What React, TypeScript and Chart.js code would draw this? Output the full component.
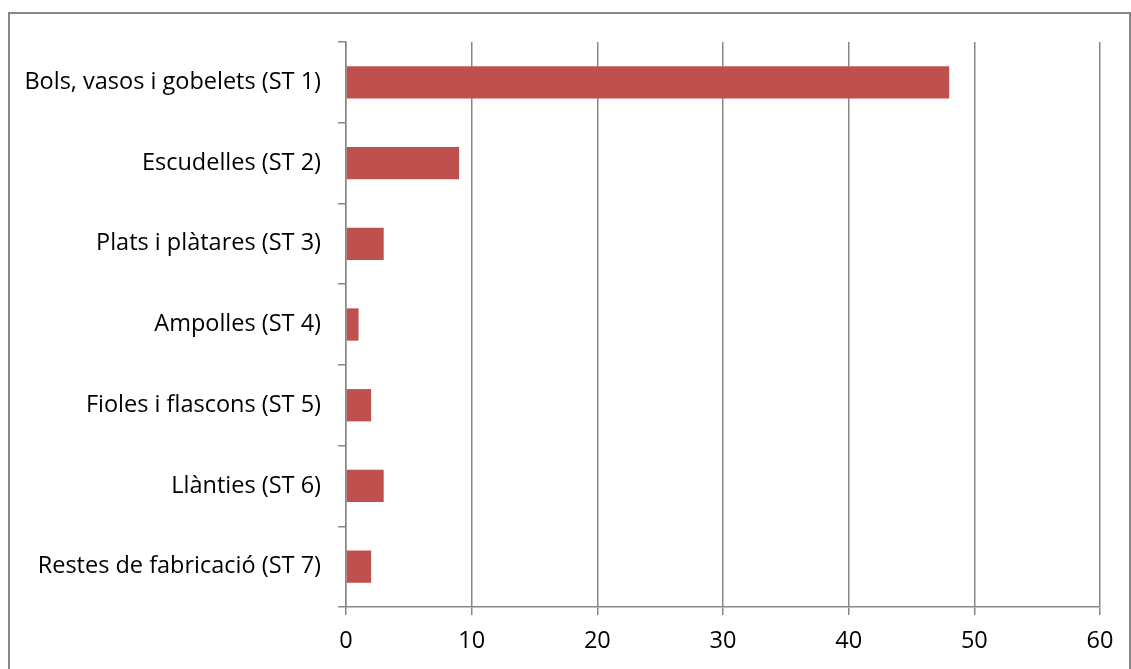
import React, { useEffect, useRef } from "react";
import { Chart, registerables } from "chart.js";

Chart.register(...registerables);

const categories = [
  "Bols, vasos i gobelets (ST 1)",
  "Escudelles (ST 2)",
  "Plats i plàtares (ST 3)",
  "Ampolles (ST 4)",
  "Fioles i flascons (ST 5)",
  "Llànties (ST 6)",
  "Restes de fabricació (ST 7)",
];
const values = [48, 9, 3, 1, 2, 3, 2];
const xMin = 0;
const xMax = 60;
const xStep = 10;

const GRID = "#878787";
const FONT = "'Open Sans', Lato, sans-serif";

const borderPlugin = {
  id: "outerBorder",
  beforeDraw(chart: any) {
    const ctx = chart.ctx;
    ctx.save();
    ctx.strokeStyle = GRID;
    ctx.lineWidth = 2;
    ctx.strokeRect(9, 13, 1121, 680);
    ctx.restore();
  },
};

export default function App() {
  const ref = useRef<HTMLCanvasElement>(null);
  useEffect(() => {
    if (!ref.current) return;
    const chart = new Chart(ref.current, {
      type: "bar",
      data: {
        labels: categories,
        datasets: [
          {
            data: values,
            backgroundColor: "#C0504D",
            borderWidth: 0,
            barPercentage: 0.4,
            categoryPercentage: 1,
          },
        ],
      },
      options: {
        indexAxis: "y",
        animation: false,
        responsive: false,
        maintainAspectRatio: false,
        layout: { padding: { left: 0, top: 42, right: 31, bottom: 0 } },
        plugins: { legend: { display: false }, tooltip: { enabled: false } },
        scales: {
          x: {
            min: xMin,
            max: xMax,
            ticks: {
              stepSize: xStep,
              color: "#000",
              font: { family: FONT, size: 23.5 },
              padding: 12,
            },
            grid: {
              color: GRID,
              lineWidth: 1.5,
              tickLength: 8,
              drawOnChartArea: true,
            },
            border: { color: GRID, width: 1.5 },
            afterFit(scale: any) {
              scale.height = 62;
            },
          },
          y: {
            ticks: {
              color: "#000",
              font: { family: FONT, size: 23.5 },
              padding: 17,
            },
            grid: {
              color: GRID,
              lineWidth: 1.5,
              tickLength: 8,
              drawOnChartArea: false,
              offset: true,
            },
            border: { color: GRID, width: 1.5 },
            afterFit(scale: any) {
              scale.width = 346;
            },
          },
        },
      },
      plugins: [borderPlugin],
    });
    return () => chart.destroy();
  }, []);
  return (
    <div style={{ position: "fixed", left: 0, top: 0, width: 1131, height: 669, background: "#fff" }}>
      <canvas ref={ref} width={1131} height={669} />
    </div>
  );
}
